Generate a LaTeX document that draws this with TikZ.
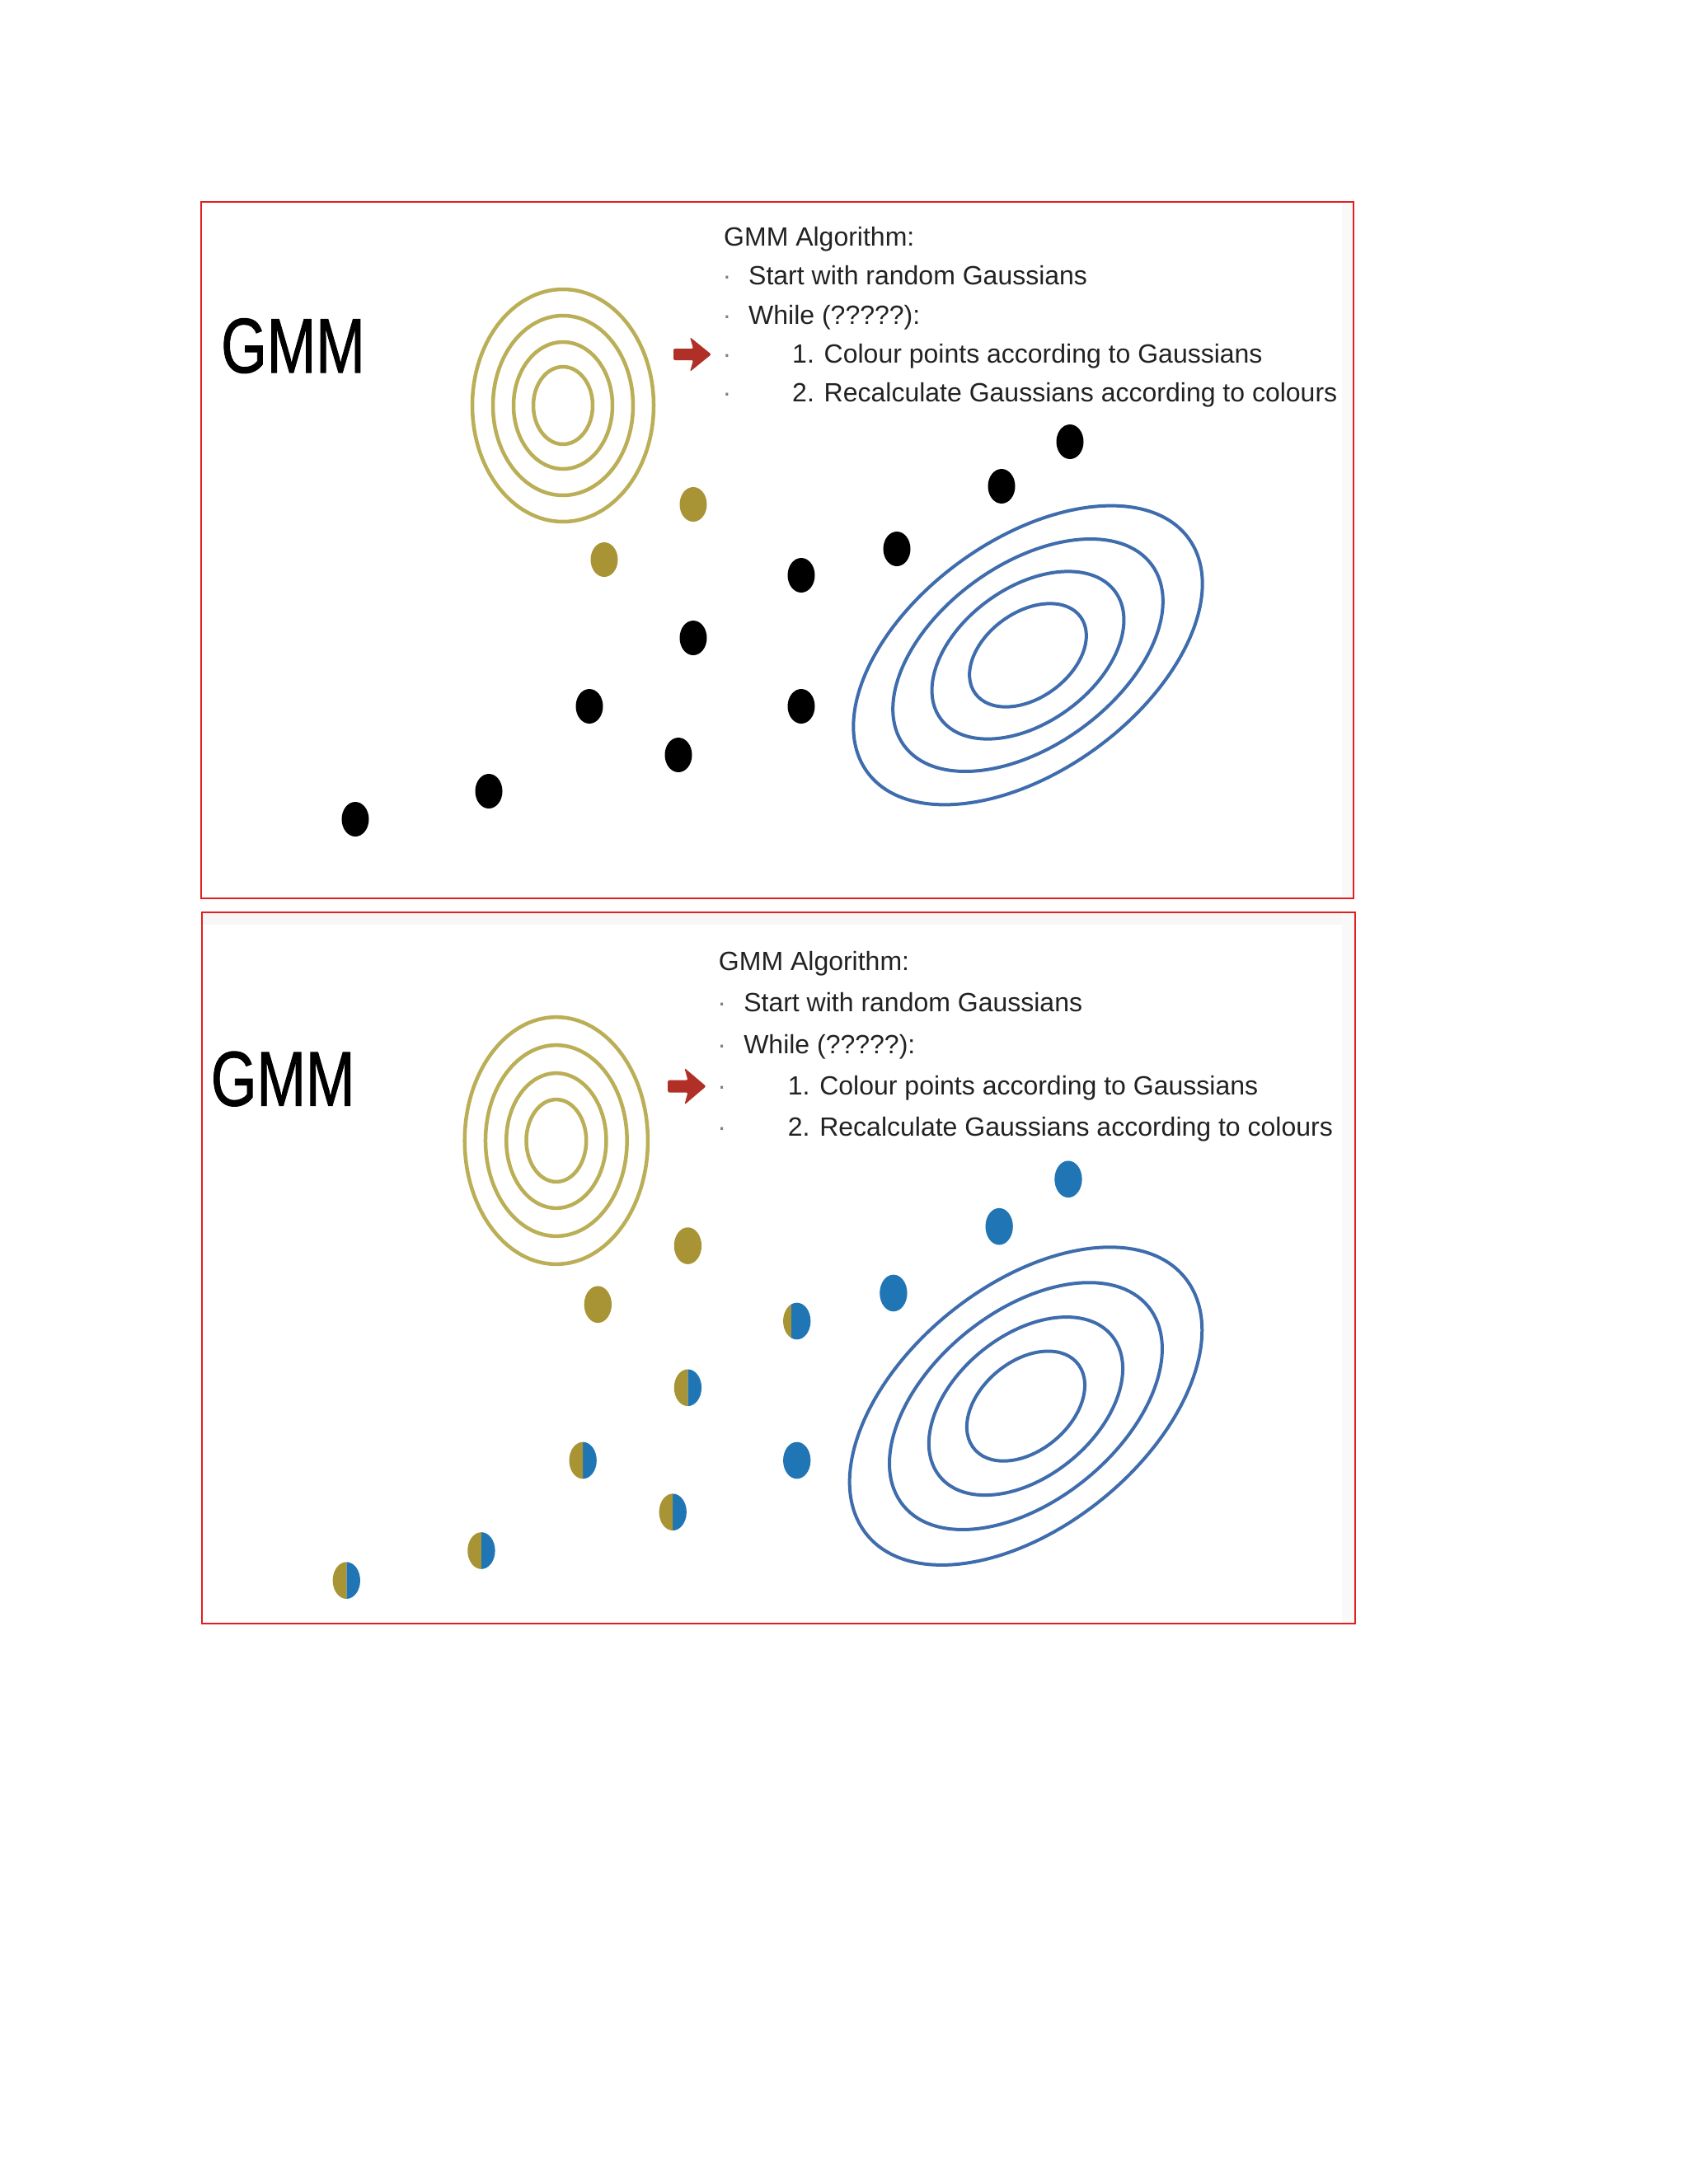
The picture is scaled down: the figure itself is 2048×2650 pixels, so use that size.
\documentclass[tikz,border=0pt]{standalone}
\usepackage{fontspec}
\setmainfont{Liberation Sans}
\newfontfamily\gmmfont[FakeBold=1.2]{Liberation Sans}
\usepackage{xcolor}
\usepackage{tikz}
\usetikzlibrary{positioning}

\definecolor{framered}{RGB}{228,30,30}
\definecolor{ringyellow}{RGB}{186,174,86}
\definecolor{dotyellow}{RGB}{168,148,52}
\definecolor{ringblue}{RGB}{62,108,172}
\definecolor{dotblue}{RGB}{32,118,180}
\definecolor{arrowred}{RGB}{176,48,40}
\definecolor{slidetext}{RGB}{34,34,34}

% one slide: title, the two gaussians, the arrow and the algorithm
\newcommand{\gmmslide}{%
  \node[bigtitle] (gmm) at (268,452) {\scalebox{0.76}[1]{GMM}};
  \foreach \rx/\ry in {110/141,85/109,60/77,36/47}
    \draw[yring] (683,492) ellipse [x radius=\rx pt, y radius=\ry pt];
  \foreach \ra/\rb in {241/140,186/110,131/82,79/52}
    \draw[bring, rotate around={36:(1247,795)}] (1247,795) ellipse [x radius=\ra pt, y radius=\rb pt];
  \fill[arrowred, rounded corners=2pt] (817,423) -- (841,423) -- (837,409) -- (863,430)
     -- (837,451) -- (841,437) -- (817,437) -- cycle;
  \node[algtext] (alg) at (878,298) {GMM Algorithm:};
  \node[algtext] (l1) at (908,345) {Start with random Gaussians};
  \node[algtext] (l2) at (908,393) {While (?????):};
  \node[algtext] (l3) at (961,440) {1. Colour points according to Gaussians};
  \node[algtext] (l4) at (961,487) {2. Recalculate Gaussians according to colours};
  \foreach \yb [count=\k] in {345,393,440,487}
    \node[listdot] (b\k) at (882,\yb) {·};
}

\begin{document}
\begin{tikzpicture}[
      x=1pt, y=-1pt,
      redframe/.style={draw=framered, line width=2.5pt},
      yring/.style={draw=ringyellow, line width=4.5pt},
      bring/.style={draw=ringblue, line width=4pt},
      bigtitle/.style={anchor=base west, inner sep=0pt, font=\gmmfont\fontsize{94}{110}\selectfont},
      algtext/.style={anchor=base west, inner sep=0pt, text=slidetext,
         font=\fontsize{32}{38}\selectfont},
      listdot/.style={anchor=base, inner sep=0pt, text=gray,
         font=\fontsize{32}{38}\selectfont}
      ]
    \useasboundingbox[fill=white] (0,0) rectangle (2048,2650);

    % top slide: points not yet coloured
    \fill[gray!5] (1628,247) rectangle (1640,1088);
    \gmmslide
    \foreach \x/\y/\c in {% x/y/colour
      841/612/dotyellow, 733/679/dotyellow, 972/698/black, 1088/666/black,
      1215/590/black, 1298/536/black, 841/774/black, 715/857/black,
      972/857/black, 823/916/black, 593/960/black, 431/994/black}
      \fill[\c] (\x,\y) ellipse [x radius=16.5pt, y radius=21pt];
    \draw[redframe] (244,245) rectangle (1642,1090);

    % bottom slide: points coloured by the gaussians
    \fill[gray!6] (246,1108) rectangle (1643,1122);
    \fill[gray!5] (1628,1108) rectangle (1643,1969);
    \begin{scope}[shift={(-15,861)}, xscale=1.01, yscale=1.063]
      \gmmslide
      \foreach \x/\y/\s in {% x/y/yellow part
        841/612/1, 733/679/1, 972/698/0.3, 1088/666/0,
        1215/590/0, 1298/536/0, 841/774/0.5, 715/857/0.5,
        972/857/0, 823/916/0.5, 593/960/0.5, 431/994/0.5}{
        \begin{scope}
          \clip ({\x-17+34*\s},\y-22) rectangle (\x+17,\y+22);
          \fill[dotblue] (\x,\y) ellipse [x radius=16.5pt, y radius=21pt];
        \end{scope}
        \begin{scope}
          \clip (\x-17,\y-22) rectangle ({\x-17+34*\s},\y+22);
          \fill[dotyellow] (\x,\y) ellipse [x radius=16.5pt, y radius=21pt];
        \end{scope}
      }
    \end{scope}
    \draw[redframe] (245,1107) rectangle (1644,1970);
\end{tikzpicture}
\end{document}
